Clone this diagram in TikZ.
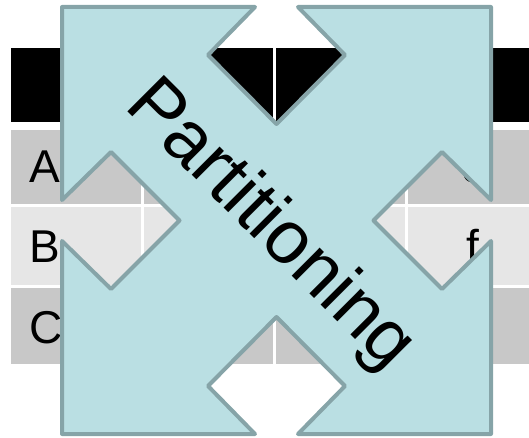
\documentclass[tikz,border=0pt]{standalone}
\usepackage{fontspec}
\setmainfont{Liberation Sans}
\definecolor{rowdark}{RGB}{200,200,200}
\definecolor{rowlight}{RGB}{230,230,230}
\definecolor{arrowfill}{RGB}{186,223,227}
\definecolor{arrowline}{RGB}{134,164,168}
\begin{document}
\begin{tikzpicture}[x=1pt,y=-1pt,
  band/.style={draw=none},
  sep/.style={draw=white,line width=2.2pt},
  celltext/.style={font=\fontsize{46}{46}\selectfont,anchor=base,inner sep=0pt},
  bigarrow/.style={fill=arrowfill,draw=arrowline,line width=4pt,line join=round},
  bigtext/.style={font=\fontsize{75}{75}\selectfont,anchor=base west,rotate=-45,inner sep=0pt}]
\useasboundingbox (0,0) rectangle (529,438);
% table rows
\fill[black] (11,48) rectangle (529,122);
\fill[rowdark] (11,130) rectangle (529,203.5);
\fill[rowlight] (11,206.5) rectangle (529,284.5);
\fill[rowdark] (11,287.5) rectangle (529,364);
% column separators
\foreach \cx in {142.5,274.5,406.5} {
  \draw[sep] (\cx,48) -- (\cx,364);
}
% cell texts
\node[celltext,anchor=base west] (ta) at (29,183) {A};
\node[celltext,anchor=base west] (tb) at (29,262) {B};
\node[celltext,anchor=base west] (tc) at (29,343) {C};
\node[celltext] (tcc) at (473,183) {c};
\node[celltext] (tf) at (473,262) {f};
% four-way arrow
\draw[bigarrow] (62,7) -- (255,7) -- (208,55) -- (276.5,124) -- (345,55) -- (298,7)
  -- (491,7) -- (491,200) -- (442,152) -- (373.5,220.5) -- (442,289) -- (491,241)
  -- (491,434) -- (298,434) -- (345,386) -- (276.5,317) -- (208,386) -- (255,434)
  -- (62,434) -- (62,241) -- (111,289) -- (179.5,220.5) -- (111,152) -- (62,200) -- cycle;
% label
\node[bigtext] (lbl) at (123,107) {Partitioning};
\end{tikzpicture}
\end{document}
